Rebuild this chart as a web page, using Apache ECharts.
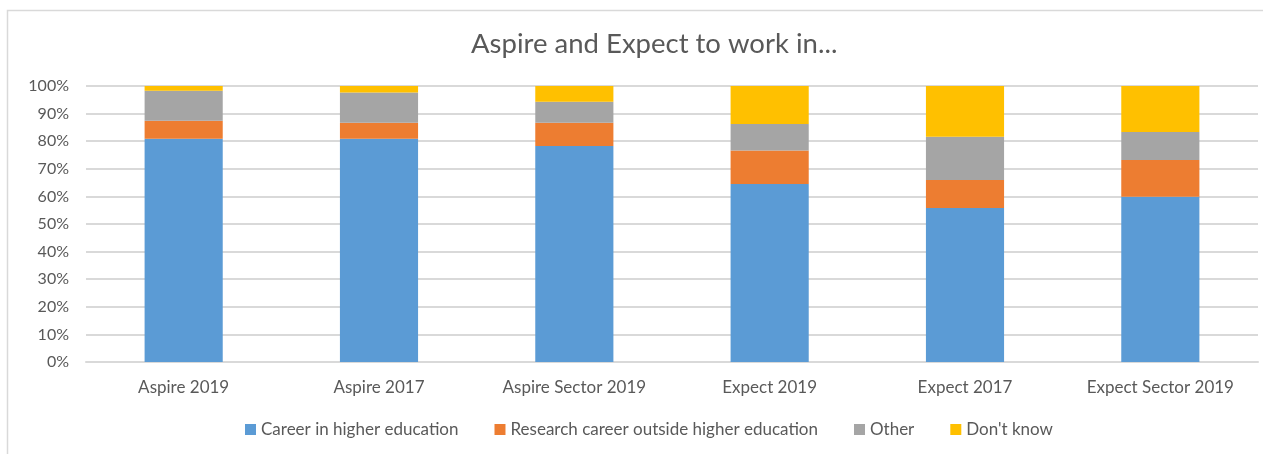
<!DOCTYPE html>
<html>
<head>
<meta charset="utf-8">
<script src="https://cdn.jsdelivr.net/npm/echarts@6/dist/echarts.min.js"></script>
<style>
html,body{margin:0;padding:0;background:#fff;}
#c{width:1263px;height:454px;}
</style>
</head>
<body>
<div id="c"></div>
<script>
const categories = ["Aspire 2019", "Aspire 2017", "Aspire Sector 2019", "Expect 2019", "Expect 2017", "Expect Sector 2019"];
const seriesNames = ["Career in higher education", "Research career outside higher education", "Other", "Don't know"];
const careerHE = [80.9, 80.9, 78.3, 64.5, 55.8, 59.9];
const researchOutside = [6.5, 5.8, 8.4, 12.1, 10.1, 13.3];
const other = [10.9, 10.9, 7.6, 9.6, 15.7, 10.1];
const dontKnow = [1.7, 2.4, 5.7, 13.8, 18.4, 16.7];
const yTicks = [0, 10, 20, 30, 40, 50, 60, 70, 80, 90, 100];

const colors = ["#5B9BD5", "#ED7D31", "#A5A5A5", "#FFC000"];
const values = [careerHE, researchOutside, other, dontKnow];
const FONT = "Lato, 'Open Sans', sans-serif";

const chart = echarts.init(document.getElementById('c'), null, {renderer: 'canvas'});
chart.setOption({
  animation: false,
  color: colors,
  graphic: [{
    type: 'rect', left: 5, top: 8,
    shape: {width: 1300, height: 460},
    style: {fill: 'none', stroke: '#d9d9d9', lineWidth: 1.5},
    silent: true, z: -1
  }],
  title: {
    text: 'Aspire and Expect to work in...',
    left: 466, top: 25,
    textStyle: {fontFamily: FONT, fontSize: 27.5, fontWeight: 'normal', color: '#595959'}
  },
  legend: {
    top: 416, left: 240,
    itemWidth: 11, itemHeight: 11, itemGap: 36,
    icon: 'rect',
    textStyle: {fontFamily: FONT, fontSize: 17, color: '#595959'},
    data: seriesNames
  },
  grid: {left: 86, right: 5, top: 86, bottom: 92, containLabel: false},
  xAxis: {
    type: 'category', data: categories,
    axisTick: {show: false},
    axisLine: {lineStyle: {color: '#d9d9d9', width: 2}},
    axisLabel: {fontFamily: FONT, fontSize: 17, color: '#595959', margin: 17}
  },
  yAxis: {
    type: 'value', min: 0, max: 100, interval: 10,
    axisLabel: {fontFamily: FONT, fontSize: 16, color: '#595959', margin: 17,
      formatter: v => yTicks.includes(v) ? v + '%' : ''},
    splitLine: {lineStyle: {color: '#d9d9d9', width: 2}},
    axisLine: {show: false}, axisTick: {show: false}
  },
  series: seriesNames.map((n, i) => ({
    name: n, type: 'bar', stack: 'total',
    barCategoryGap: '60%',
    data: values[i],
    itemStyle: {color: colors[i]}
  }))
});
</script>
</body>
</html>
